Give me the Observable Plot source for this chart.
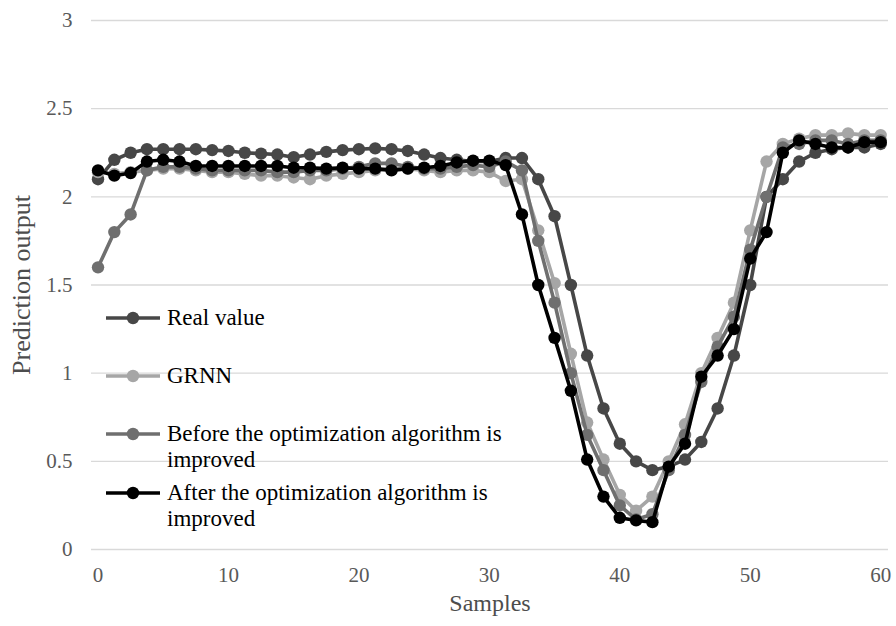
<!DOCTYPE html>
<html>
<head>
<meta charset="utf-8">
<script src="https://cdn.jsdelivr.net/npm/d3@7"></script>
<script src="https://cdn.jsdelivr.net/npm/@observablehq/plot@0.6"></script>
<style>
  html, body { margin: 0; padding: 0; background: #fff; }
  #wrap { position: relative; width: 896px; height: 626px; font-family: "Liberation Serif", "Times New Roman", serif; }
  #legend { position: absolute; left: 105px; top: 0; color: #000; font-size: 23px; }
  .entry { position: absolute; left: 0; display: flex; align-items: flex-start; white-space: nowrap; }
  .entry svg { flex: none; margin-top: 4px; }
  .entry span { margin-left: 6px; line-height: 26px; }
</style>
</head>
<body>
<div id="wrap"></div>
<script>
const samples = [0, 1.25, 2.5, 3.75, 5, 6.25, 7.5, 8.75, 10, 11.25, 12.5, 13.75, 15, 16.25, 17.5, 18.75, 20, 21.25, 22.5, 23.75, 25, 26.25, 27.5, 28.75, 30, 31.25, 32.5, 33.75, 35, 36.25, 37.5, 38.75, 40, 41.25, 42.5, 43.75, 45, 46.25, 47.5, 48.75, 50, 51.25, 52.5, 53.75, 55, 56.25, 57.5, 58.75, 60];

const realValue = [2.10, 2.21, 2.25, 2.27, 2.27, 2.27, 2.27, 2.265, 2.26, 2.25, 2.245, 2.24, 2.225, 2.24, 2.255, 2.265, 2.27, 2.275, 2.27, 2.26, 2.24, 2.22, 2.21, 2.20, 2.20, 2.22, 2.22, 2.10, 1.89, 1.50, 1.10, 0.80, 0.60, 0.50, 0.45, 0.47, 0.51, 0.61, 0.80, 1.10, 1.50, 2.00, 2.10, 2.20, 2.25, 2.27, 2.28, 2.28, 2.30];

const grnn = [2.14, 2.13, 2.14, 2.15, 2.16, 2.16, 2.15, 2.14, 2.14, 2.13, 2.12, 2.12, 2.11, 2.10, 2.12, 2.13, 2.14, 2.15, 2.16, 2.16, 2.15, 2.14, 2.15, 2.15, 2.14, 2.09, 2.10, 1.81, 1.51, 1.11, 0.72, 0.51, 0.31, 0.22, 0.30, 0.50, 0.71, 1.00, 1.20, 1.40, 1.81, 2.20, 2.30, 2.33, 2.35, 2.35, 2.36, 2.35, 2.35];

const beforeImproved = [1.60, 1.80, 1.90, 2.15, 2.17, 2.17, 2.16, 2.15, 2.15, 2.15, 2.15, 2.14, 2.14, 2.15, 2.15, 2.16, 2.17, 2.19, 2.19, 2.17, 2.16, 2.16, 2.17, 2.18, 2.17, 2.20, 2.15, 1.75, 1.40, 1.00, 0.65, 0.45, 0.25, 0.17, 0.20, 0.45, 0.65, 0.95, 1.15, 1.32, 1.70, 2.00, 2.28, 2.30, 2.32, 2.32, 2.30, 2.32, 2.32];

const afterImproved = [2.15, 2.12, 2.135, 2.20, 2.21, 2.20, 2.175, 2.175, 2.175, 2.175, 2.175, 2.175, 2.165, 2.165, 2.16, 2.165, 2.16, 2.16, 2.15, 2.16, 2.165, 2.175, 2.195, 2.205, 2.205, 2.18, 1.90, 1.50, 1.20, 0.90, 0.51, 0.30, 0.18, 0.165, 0.155, 0.47, 0.60, 0.98, 1.10, 1.25, 1.65, 1.80, 2.25, 2.32, 2.30, 2.28, 2.28, 2.31, 2.31];

const seriesNames = ["Real value", "GRNN", "Before the optimization algorithm is improved", "After the optimization algorithm is improved"];
const legendLines = [["Real value"], ["GRNN"], ["Before the optimization algorithm is", "improved"], ["After the optimization algorithm is", "improved"]];
const seriesColors = ["#474747", "#a6a6a6", "#6f6f6f", "#000000"];
const seriesValues = [realValue, grnn, beforeImproved, afterImproved];

const xTicks = [0, 10, 20, 30, 40, 50, 60];
const yTicks = [0, 0.5, 1, 1.5, 2, 2.5, 3];
const xTitle = "Samples";
const yTitle = "Prediction output";

const rows = seriesNames.map((name, k) => samples.map((s, i) => ({series: name, x: s, y: seriesValues[k][i]})));

const seriesMarks = rows.flatMap((data, k) => [
  Plot.line(data, {x: "x", y: "y", stroke: seriesColors[k], strokeWidth: 3.6}),
  Plot.dot(data, {x: "x", y: "y", r: 6.2, fill: seriesColors[k], stroke: "none"})
]);

const chart = Plot.plot({
  width: 896,
  height: 626,
  marginLeft: 91,
  marginRight: 8,
  marginTop: 20,
  marginBottom: 77,
  style: {fontFamily: "'Liberation Serif', 'Times New Roman', serif", color: "#595959", background: "#fff"},
  x: {domain: [-0.5, 60.6]},
  y: {domain: [0, 3]},
  marks: [
    Plot.gridY(yTicks, {stroke: "#d9d9d9", strokeOpacity: 1, strokeWidth: 1.3}),
    Plot.axisY(yTicks, {tickSize: 0, tickPadding: 19, fontSize: 21, label: null, tickFormat: d => String(d)}),
    Plot.axisX(xTicks, {tickSize: 0, tickPadding: 18, fontSize: 21, label: null}),
    Plot.text([yTitle], {frameAnchor: "left", textAnchor: "middle", dx: -70, rotate: -90, fontSize: 26, fill: "#4d4d4d"}),
    Plot.text([xTitle], {frameAnchor: "bottom", dy: 61, fontSize: 24, fill: "#4d4d4d"}),
    ...seriesMarks
  ]
});

const wrap = document.getElementById("wrap");
wrap.appendChild(chart);

const legend = document.createElement("div");
legend.id = "legend";
const legendTops = [305, 363, 421, 480];
legendLines.forEach((lines, k) => {
  const e = document.createElement("div");
  e.className = "entry";
  e.style.top = legendTops[k] + "px";
  e.innerHTML = `<svg width="56" height="18"><line x1="1" y1="9" x2="55" y2="9" stroke="${seriesColors[k]}" stroke-width="3.6"/><circle cx="28" cy="9" r="6.2" fill="${seriesColors[k]}"/></svg><span>${lines.join("<br>")}</span>`;
  legend.appendChild(e);
});
wrap.appendChild(legend);
</script>
</body>
</html>
